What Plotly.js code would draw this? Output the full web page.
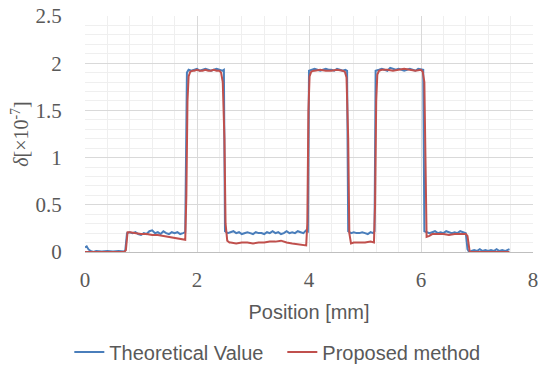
<!DOCTYPE html>
<html>
<head>
<meta charset="utf-8">
<script src="https://cdn.plot.ly/plotly-3.0.1.min.js"></script>
<style>html,body{margin:0;padding:0;background:#fff;}#chart{width:538px;height:366px;}</style>
</head>
<body>
<div id="chart"></div>
<script>
// Theoretical Value (blue)
const xTheo = [0,0.03,0.06,0.1,0.15,0.2,0.3,0.4,0.5,0.6,0.7,0.72,0.75,0.8,0.85,0.9,0.95,1.0,1.05,1.1,1.15,1.2,1.25,1.3,1.35,1.4,1.45,1.5,1.55,1.6,1.65,1.7,1.75,1.79,1.82,1.85,1.9,1.95,2.0,2.05,2.1,2.15,2.2,2.25,2.3,2.35,2.4,2.45,2.48,2.5,2.55,2.6,2.65,2.7,2.75,2.8,2.85,2.9,2.95,3.0,3.05,3.1,3.15,3.2,3.25,3.3,3.35,3.4,3.45,3.5,3.55,3.6,3.65,3.7,3.75,3.8,3.85,3.9,3.95,3.98,4.0,4.05,4.1,4.15,4.2,4.25,4.3,4.35,4.4,4.45,4.5,4.55,4.6,4.65,4.68,4.7,4.75,4.8,4.85,4.9,4.95,5.0,5.05,5.1,5.15,5.17,5.19,5.25,5.3,5.35,5.4,5.45,5.5,5.55,5.6,5.65,5.7,5.75,5.8,5.85,5.9,5.95,6.0,6.04,6.06,6.1,6.15,6.2,6.25,6.3,6.35,6.4,6.45,6.5,6.55,6.6,6.65,6.7,6.75,6.8,6.83,6.86,6.9,6.95,7.0,7.05,7.1,7.15,7.2,7.25,7.3,7.35,7.4,7.45,7.5,7.55,7.58];
const yTheo = [0.05,0.06,0.03,0.01,0.0,0.01,0.005,0.01,0.005,0.01,0.005,0.02,0.2,0.21,0.2,0.21,0.19,0.18,0.2,0.19,0.22,0.23,0.2,0.21,0.19,0.22,0.2,0.19,0.21,0.2,0.21,0.19,0.2,0.21,1.9,1.93,1.92,1.93,1.94,1.92,1.93,1.94,1.93,1.92,1.93,1.94,1.93,1.92,1.93,0.22,0.2,0.21,0.22,0.2,0.21,0.19,0.2,0.21,0.2,0.19,0.21,0.2,0.2,0.19,0.21,0.2,0.22,0.2,0.21,0.19,0.2,0.22,0.2,0.21,0.2,0.22,0.21,0.2,0.23,0.22,1.92,1.93,1.94,1.93,1.92,1.93,1.94,1.93,1.93,1.92,1.94,1.93,1.92,1.93,1.92,0.22,0.2,0.21,0.2,0.2,0.21,0.2,0.19,0.21,0.2,0.22,1.92,1.93,1.94,1.93,1.92,1.95,1.94,1.93,1.94,1.93,1.92,1.93,1.94,1.93,1.92,1.94,1.93,1.93,0.22,0.21,0.2,0.21,0.22,0.2,0.21,0.2,0.22,0.21,0.2,0.21,0.2,0.22,0.21,0.2,0.03,0.0,0.01,0.02,0.01,0.03,0.01,0.02,0.01,0.02,0.01,0.03,0.01,0.02,0.01,0.02,0.03,0.04];

// Proposed method (red)
const xProp = [0,0.1,0.2,0.3,0.4,0.5,0.6,0.7,0.73,0.76,0.8,0.9,1.0,1.1,1.2,1.3,1.4,1.5,1.6,1.7,1.76,1.79,1.81,1.83,1.85,1.88,1.92,1.95,2.0,2.05,2.1,2.15,2.2,2.25,2.3,2.35,2.4,2.43,2.46,2.49,2.51,2.54,2.58,2.6,2.7,2.8,2.9,3.0,3.1,3.2,3.3,3.4,3.5,3.6,3.7,3.8,3.9,3.95,3.97,3.99,4.01,4.04,4.08,4.1,4.2,4.3,4.4,4.5,4.6,4.64,4.67,4.7,4.72,4.75,4.8,4.9,5.0,5.1,5.16,5.18,5.2,5.22,5.25,5.3,5.4,5.5,5.6,5.7,5.8,5.9,6.0,6.03,6.06,6.08,6.1,6.15,6.2,6.3,6.4,6.5,6.6,6.7,6.8,6.83,6.85,6.87,6.9,7.0,7.1,7.2,7.3,7.4,7.5,7.58];
const yProp = [0,0,0,0,0,0,0,0,0.02,0.21,0.21,0.2,0.19,0.19,0.18,0.18,0.17,0.16,0.15,0.14,0.13,0.13,0.6,1.6,1.86,1.91,1.92,1.92,1.93,1.92,1.92,1.93,1.92,1.92,1.93,1.92,1.92,1.9,1.8,1.2,0.3,0.12,0.1,0.1,0.09,0.1,0.1,0.09,0.1,0.1,0.11,0.11,0.12,0.1,0.09,0.08,0.07,0.07,0.3,1.5,1.86,1.91,1.92,1.92,1.93,1.92,1.92,1.93,1.92,1.91,1.85,1.2,0.2,0.09,0.1,0.1,0.1,0.11,0.1,0.5,1.6,1.88,1.92,1.93,1.93,1.92,1.93,1.94,1.93,1.92,1.93,1.91,1.8,0.9,0.16,0.17,0.19,0.19,0.19,0.18,0.19,0.19,0.19,0.17,0.1,0.0,0,0,0,0,0,0,0,0];

const traceNames = ['Theoretical Value', 'Proposed method'];
const traceColors = ['#4a7ebb', '#c0504d'];

const data = [
  {x: xTheo, y: yTheo, name: traceNames[0], type: 'scatter', mode: 'lines',
   line: {color: traceColors[0], width: 2}},
  {x: xProp, y: yProp, name: traceNames[1], type: 'scatter', mode: 'lines',
   line: {color: traceColors[1], width: 2}}
];

const tickFont = {family: 'Liberation Serif, Times New Roman, serif', size: 21, color: '#595959'};

const layout = {
  width: 538, height: 366,
  margin: {l: 85, r: 5, t: 16, b: 114, autoexpand: false},
  paper_bgcolor: '#fff', plot_bgcolor: '#fff',
  showlegend: true,
  legend: {orientation: 'h', x: -0.035, xanchor: 'left', y: -0.424, yanchor: 'middle',
           font: {family: 'Liberation Sans, Arial, sans-serif', size: 20, color: '#595959'},
           itemwidth: 30, entrywidth: 168, entrywidthmode: 'pixels', tracegroupgap: 0},
  xaxis: {
    range: [0, 8], dtick: 2, tick0: 0,
    showgrid: true, gridcolor: '#d9d9d9', gridwidth: 1,
    minor: {dtick: 0.4, showgrid: true, gridcolor: '#efefef', gridwidth: 1},
    showline: true, linecolor: '#bfbfbf', linewidth: 1,
    zeroline: false,
    ticks: 'outside', ticklen: 9, tickcolor: 'rgba(0,0,0,0)',
    tickfont: tickFont, ticklabeloverflow: 'allow',
    title: {text: 'Position [mm]', standoff: 13,
            font: {family: 'Liberation Sans, Arial, sans-serif', size: 20, color: '#595959'}},
    automargin: false
  },
  yaxis: {
    range: [0, 2.5], dtick: 0.5, tick0: 0,
    showgrid: true, gridcolor: '#d9d9d9', gridwidth: 1,
    minor: {dtick: 0.1, showgrid: true, gridcolor: '#efefef', gridwidth: 1},
    showline: false, zeroline: false,
    ticks: 'outside', ticklen: 18, tickcolor: 'rgba(0,0,0,0)',
    tickfont: tickFont, ticklabeloverflow: 'allow',
    title: {text: '<i>δ</i>[×10<sup>-7</sup>]', standoff: 1,
            font: {family: 'Liberation Serif, Times New Roman, serif', size: 20, color: '#595959'}},
    automargin: false
  }
};

Plotly.newPlot('chart', data, layout, {displayModeBar: false, staticPlot: true});
</script>
</body>
</html>
